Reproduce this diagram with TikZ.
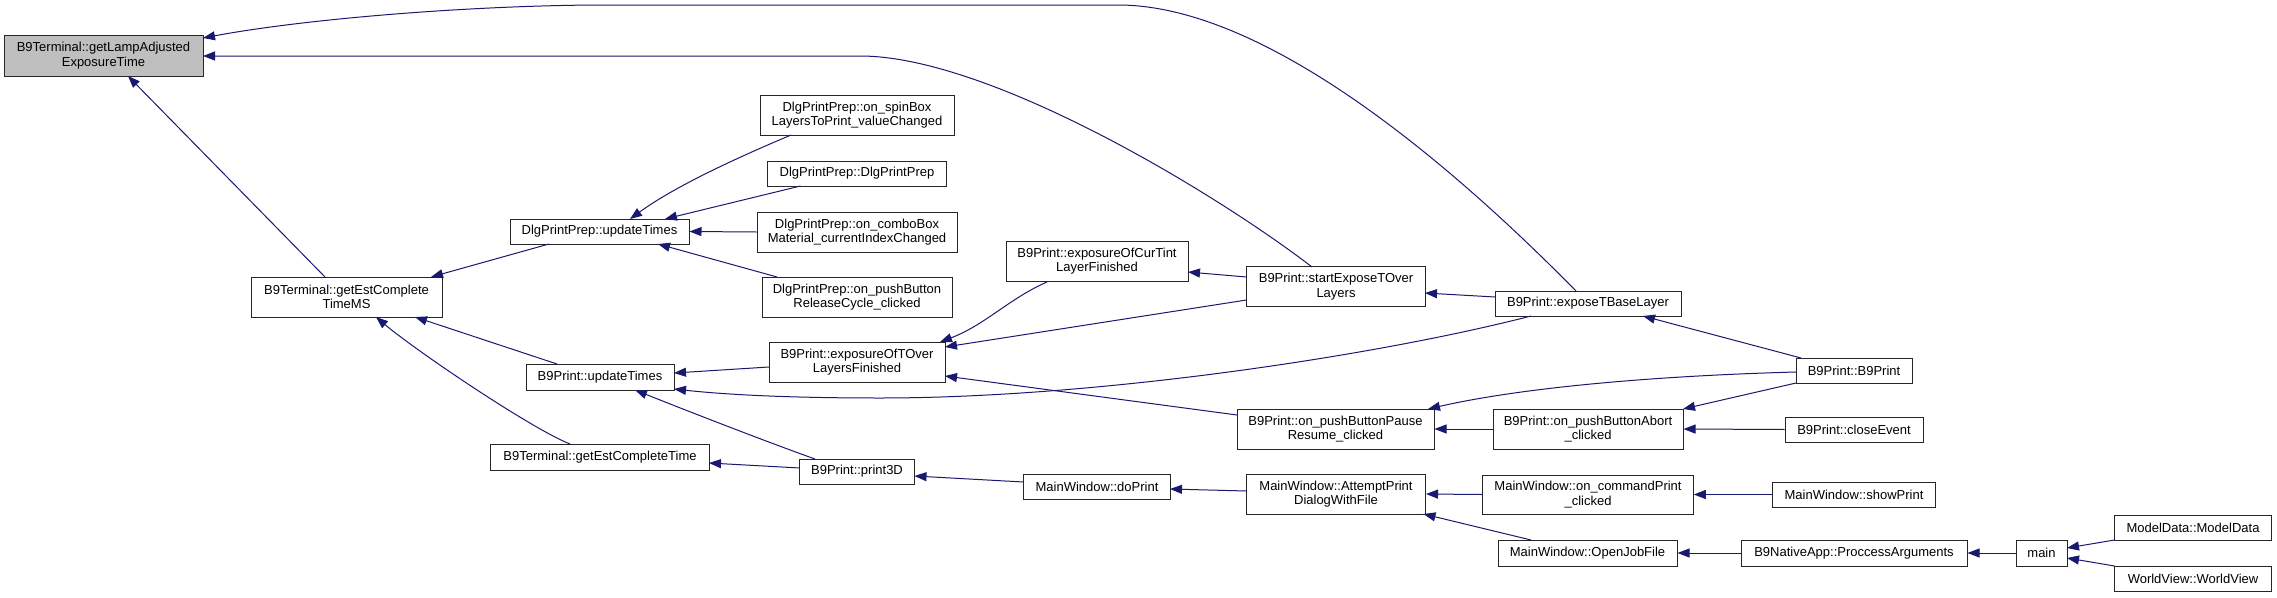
\documentclass[tikz,border=0pt]{standalone}
\usepackage{fontspec}
\newfontfamily\nodefontfam{Liberation Sans}
\usetikzlibrary{arrows.meta,calc}
\definecolor{edgeblue}{HTML}{191970}
\definecolor{rootgray}{HTML}{BFBFBF}
\tikzset{
  box/.style={draw=black!85, line width=1pt, fill=white, inner sep=0pt, align=center,
    font=\nodefontfam\fontsize{13}{14.3}\selectfont},
  edge/.style={draw=edgeblue, line width=1pt, -{Triangle[length=12pt,width=9pt]}},
}
\begin{document}
\begin{tikzpicture}[x=1pt,y=-1pt]
\useasboundingbox[fill=white] (0,0) rectangle (2277,597);
% nodes
\node[box, fill=rootgray, minimum width=199pt, minimum height=41pt] (A) at (103.5,55.5) {B9Terminal::getLampAdjusted\\ExposureTime};
\node[box, minimum width=191pt, minimum height=40pt] (B) at (346.5,297) {B9Terminal::getEstComplete\\TimeMS};
\node[box, minimum width=179pt, minimum height=25pt] (C) at (599.5,231.5) {DlgPrintPrep::updateTimes};
\node[box, minimum width=148pt, minimum height=26pt] (D) at (600,377) {B9Print::updateTimes};
\node[box, minimum width=218.5pt, minimum height=26pt] (E) at (600,457) {B9Terminal::getEstCompleteTime};
\node[box, minimum width=194pt, minimum height=40pt] (F) at (857,115) {DlgPrintPrep::on\_spinBox\\LayersToPrint\_valueChanged};
\node[box, minimum width=178.5pt, minimum height=25pt] (G) at (857,173.5) {DlgPrintPrep::DlgPrintPrep};
\node[box, minimum width=200pt, minimum height=40pt] (H) at (857,232) {DlgPrintPrep::on\_comboBox\\Material\_currentIndexChanged};
\node[box, minimum width=190pt, minimum height=40pt] (I) at (857,297) {DlgPrintPrep::on\_pushButton\\ReleaseCycle\_clicked};
\node[box, minimum width=176pt, minimum height=40pt] (J) at (857,362) {B9Print::exposureOfTOver\\LayersFinished};
\node[box, minimum width=182pt, minimum height=40pt] (K) at (1097,261) {B9Print::exposureOfCurTint\\LayerFinished};
\node[box, minimum width=114.5pt, minimum height=25pt] (L) at (857,471.5) {B9Print::print3D};
\node[box, minimum width=146.5pt, minimum height=25pt] (M) at (1097,486.5) {MainWindow::doPrint};
\node[box, minimum width=179pt, minimum height=40pt] (N) at (1336,286.5) {B9Print::startExposeTOver\\Layers};
\node[box, minimum width=186pt, minimum height=25pt] (O) at (1588,303.5) {B9Print::exposeTBaseLayer};
\node[box, minimum width=197pt, minimum height=40pt] (P) at (1335.5,429) {B9Print::on\_pushButtonPause\\Resume\_clicked};
\node[box, minimum width=179pt, minimum height=40pt] (Q) at (1336,494) {MainWindow::AttemptPrint\\DialogWithFile};
\node[box, minimum width=116pt, minimum height=25pt] (R) at (1854,370.5) {B9Print::B9Print};
\node[box, minimum width=190pt, minimum height=40pt] (S) at (1588,429) {B9Print::on\_pushButtonAbort\\\_clicked};
\node[box, minimum width=138pt, minimum height=25pt] (T) at (1854,429.5) {B9Print::closeEvent};
\node[box, minimum width=210.5pt, minimum height=39pt] (U) at (1588,494.5) {MainWindow::on\_commandPrint\\\_clicked};
\node[box, minimum width=162.5pt, minimum height=25pt] (V) at (1854,494.5) {MainWindow::showPrint};
\node[box, minimum width=179pt, minimum height=26pt] (W) at (1587.5,553) {MainWindow::OpenJobFile};
\node[box, minimum width=226pt, minimum height=26pt] (X) at (1854,553) {B9NativeApp::ProccessArguments};
\node[box, minimum width=51pt, minimum height=26pt] (Y) at (2041.5,553) {main};
\node[box, minimum width=157pt, minimum height=25pt] (Z) at (2193,527.5) {ModelData::ModelData};
\node[box, minimum width=157pt, minimum height=25pt] (AA) at (2193,578.5) {WorldView::WorldView};
% edges
\draw[edge] ($(B)+(-21.5,-20)$) -- ($(A)+(24.5,20.5)$);
\draw[edge] ($(O)+(-12,-12.5)$) .. controls (1457,170) and (1268,5) .. (1118,5) -- (606,5) .. controls (480,5) and (310,18) .. ($(A)+(99.5,-17.5)$);
\draw[edge] ($(N)+(-24,-19.5)$) .. controls (1217,194) and (990,56) .. (860,56) -- ($(A)+(99.5,0.5)$);
\draw[edge] ($(C)+(-50.5,12.5)$) -- ($(B)+(84.5,-20)$);
\draw[edge] ($(D)+(-43,-13)$) -- ($(B)+(68.5,20)$);
\draw[edge] ($(E)+(-30,-13)$) .. controls (530,428) and (415,350) .. ($(B)+(29.5,20)$);
\draw[edge] ($(F)+(-66,20)$) .. controls (720,165) and (670,190) .. ($(C)+(30.5,-12.5)$);
\draw[edge] ($(G)+(-56.5,12.5)$) -- ($(C)+(65.5,-12.5)$);
\draw[edge] (H.west) -- (C.east);
\draw[edge] ($(I)+(-80,-20)$) -- ($(C)+(58.5,12.5)$);
\draw[edge] ($(J)+(-88,5)$) -- ($(D)+(74,-4)$);
\draw[edge] ($(O)+(-57,12.5)$) .. controls (1380,355) and (1100,398) .. (880,398) .. controls (780,398) and (720,394) .. ($(D)+(74,12)$);
\draw[edge] ($(L)+(-42,-12.5)$) .. controls (770,443) and (690,412) .. ($(D)+(35,13)$);
\draw[edge] ($(L)+(-57,-3.5)$) -- ($(E)+(109,6)$);
\draw[edge] ($(K)+(-50,21)$) .. controls (1010,298) and (985,325) .. ($(J)+(83,-20)$);
\draw[edge] ($(N)+(-89.5,13.5)$) -- ($(J)+(88,-15)$);
\draw[edge] ($(P)+(-98.5,-14)$) -- ($(J)+(88,14)$);
\draw[edge] ($(N)+(-89.5,-9.5)$) -- ($(K)+(91,11)$);
\draw[edge] ($(O)+(-93,-6.5)$) -- ($(N)+(89,6.5)$);
\draw[edge] ($(R)+(-53,-12.5)$) -- ($(O)+(55,12.5)$);
\draw[edge] ($(R)+(-58,1.5)$) .. controls (1650,376) and (1520,388) .. ($(P)+(92.5,-20)$);
\draw[edge] (S.west) -- (P.east);
\draw[edge] ($(R)+(-58,12.5)$) -- ($(S)+(95,-20)$);
\draw[edge] (T.west) -- (S.east);
\draw[edge] ($(M)+(-73.5,-4.5)$) -- ($(L)+(57.5,4.5)$);
\draw[edge] ($(Q)+(-89.5,-3)$) -- ($(M)+(73,2.5)$);
\draw[edge] (U.west) -- (Q.east);
\draw[edge] ($(W)+(-56.5,-13)$) -- ($(Q)+(87.5,20)$);
\draw[edge] (V.west) -- (U.east);
\draw[edge] (X.west) -- (W.east);
\draw[edge] (Y.west) -- (X.east);
\draw[edge] ($(Z)+(-78.5,12.5)$) -- ($(Y)+(25.5,-5)$);
\draw[edge] ($(AA)+(-78.5,-12.5)$) -- ($(Y)+(25.5,5)$);
\end{tikzpicture}
\end{document}
